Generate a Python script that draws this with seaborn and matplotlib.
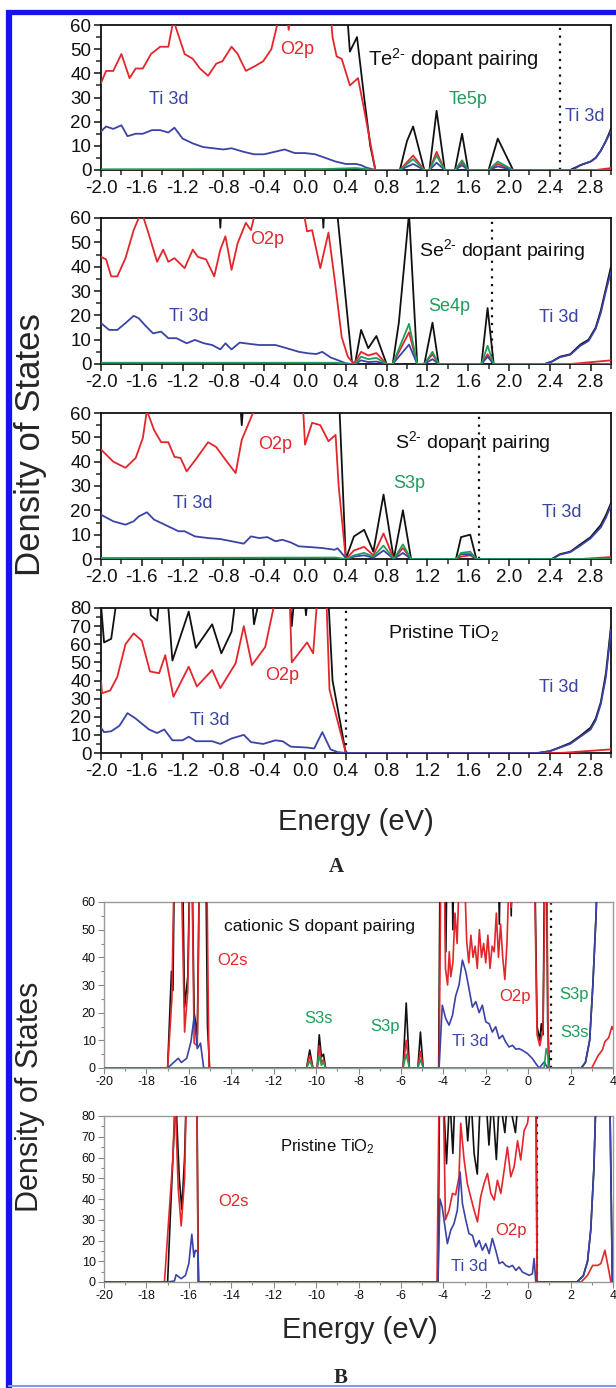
import matplotlib
matplotlib.use("Agg")
import matplotlib.pyplot as plt
from matplotlib.ticker import MultipleLocator, FormatStrFormatter
import seaborn as sns

# ---- Panel A: Te2- dopant pairing  (energy, DOS) ----
te_total = [(-2.0, 90), (0.37, 90), (0.44, 49), (0.51, 55), (0.58, 30), (0.64, 10), (0.69, 0),
            (0.93, 0), (1.0, 12), (1.06, 18), (1.17, 0), (1.22, 0), (1.29, 24.5), (1.37, 0),
            (1.47, 0), (1.54, 15), (1.6, 0), (1.8, 0), (1.89, 13), (2.04, 0), (2.6, 0), (2.7, 2),
            (2.8, 3.5), (2.85, 5), (2.9, 8), (2.95, 12), (3.0, 17)]
te_o2p = [(-2.0, 36), (-1.95, 41), (-1.88, 41), (-1.80, 48), (-1.72, 38), (-1.66, 42), (-1.59, 42),
          (-1.51, 48), (-1.42, 51), (-1.34, 51), (-1.29, 62), (-1.18, 48), (-1.10, 46), (-1.03, 42),
          (-0.95, 39), (-0.87, 44), (-0.81, 45), (-0.72, 51), (-0.66, 48), (-0.58, 41), (-0.49, 43),
          (-0.41, 45), (-0.33, 50), (-0.25, 64), (-0.19, 70), (-0.16, 58), (-0.12, 70), (0.1, 75),
          (0.24, 70), (0.27, 55), (0.31, 47), (0.36, 46), (0.44, 35), (0.52, 38), (0.58, 25), (0.69, 0),
          (0.93, 0), (1.06, 6), (1.17, 0), (1.22, 0), (1.29, 7.5), (1.37, 0), (1.47, 0), (1.54, 3),
          (1.6, 0), (1.8, 0), (1.89, 2.5), (2.04, 0), (2.85, 0), (3.0, 0.8)]
te_ti3d = [(-2.0, 16), (-1.95, 18), (-1.88, 17), (-1.80, 18.5), (-1.74, 14), (-1.66, 15), (-1.59, 15),
           (-1.5, 16.5), (-1.42, 16.5), (-1.34, 15.5), (-1.28, 17.5), (-1.2, 13), (-1.1, 11), (-1.0, 9.5),
           (-0.9, 9), (-0.8, 8.5), (-0.72, 9), (-0.6, 7.5), (-0.5, 6.5), (-0.4, 6.5), (-0.3, 7.5),
           (-0.2, 8.5), (-0.1, 7), (0.0, 7), (0.1, 6.5), (0.2, 5), (0.3, 3.5), (0.4, 2.5), (0.5, 2.5),
           (0.55, 2), (0.6, 1), (0.69, 0), (0.93, 0), (1.06, 2.5), (1.17, 0), (1.22, 0), (1.29, 3),
           (1.37, 0), (1.47, 0), (1.54, 2), (1.6, 0), (1.8, 0), (1.89, 1.5), (2.04, 0), (2.62, 0),
           (2.7, 2), (2.8, 3.5), (2.85, 5), (2.9, 8), (2.95, 12), (3.0, 16)]
te_dopant = [(-2.0, 0.3), (0.2, 0.4), (0.5, 0.8), (0.69, 0), (0.93, 0), (1.06, 4.5), (1.17, 0),
             (1.22, 0), (1.29, 6), (1.37, 0), (1.47, 0), (1.54, 4), (1.6, 0), (1.8, 0), (1.89, 3.5),
             (2.04, 0), (3.0, 0)]

# ---- Panel A: Se2- dopant pairing ----
se_total = [(-2.0, 90), (-0.87, 90), (-0.83, 56), (-0.79, 90), (0.14, 90), (0.18, 56), (0.22, 90),
            (0.25, 90), (0.46, 1), (0.49, 0), (0.55, 14), (0.62, 6.5), (0.7, 11.5), (0.8, 0), (0.86, 0),
            (0.92, 17), (1.02, 62), (1.1, 0), (1.17, 0), (1.25, 17), (1.31, 0), (1.73, 0), (1.79, 23),
            (1.85, 0), (2.35, 0), (2.42, 1), (2.5, 3), (2.6, 4), (2.7, 8), (2.78, 10), (2.85, 15),
            (2.9, 22), (2.95, 31), (3.0, 40)]
se_o2p = [(-2.0, 44), (-1.95, 43), (-1.9, 36), (-1.84, 36), (-1.76, 43.5), (-1.68, 55), (-1.63, 60),
          (-1.59, 61), (-1.54, 54.5), (-1.45, 42), (-1.39, 47), (-1.34, 42), (-1.28, 43.5), (-1.18, 39.4),
          (-1.10, 47), (-1.05, 44), (-0.97, 43), (-0.89, 36), (-0.83, 47), (-0.78, 52.5), (-0.72, 38.7),
          (-0.66, 49.7), (-0.58, 58), (-0.53, 55), (-0.49, 62), (-0.3, 75), (-0.1, 72), (-0.02, 64),
          (0.02, 54.5), (0.07, 55), (0.15, 39.4), (0.23, 54), (0.29, 35), (0.36, 11), (0.42, 3),
          (0.48, 0), (0.55, 5), (0.62, 3.5), (0.7, 4.5), (0.8, 0), (0.86, 0), (1.02, 13), (1.1, 0),
          (1.17, 0), (1.25, 4), (1.31, 0), (1.73, 0), (1.79, 4), (1.85, 0), (2.6, 0), (3.0, 1.5)]
se_ti3d = [(-2.0, 16.8), (-1.92, 14), (-1.84, 14), (-1.76, 16.8), (-1.68, 19.8), (-1.63, 18.8),
           (-1.57, 16), (-1.49, 12.6), (-1.41, 13.3), (-1.34, 10.6), (-1.26, 10.6), (-1.16, 8.5),
           (-1.08, 9.9), (-0.99, 8.5), (-0.91, 7.8), (-0.83, 6), (-0.78, 8.5), (-0.72, 6), (-0.64, 8.8),
           (-0.53, 8.2), (-0.45, 7.8), (-0.29, 7.8), (-0.18, 6.5), (-0.06, 5), (0.03, 4.4), (0.11, 4.1),
           (0.17, 5), (0.25, 2.7), (0.32, 1.6), (0.40, 0.3), (0.46, 0), (0.49, 0), (0.55, 1.5),
           (0.62, 0.8), (0.7, 1), (0.8, 0), (0.86, 0), (1.02, 8), (1.1, 0), (1.17, 0), (1.25, 2),
           (1.31, 0), (1.73, 0), (1.79, 3), (1.85, 0), (2.35, 0), (2.42, 1), (2.5, 2.8), (2.6, 3.8),
           (2.7, 7.5), (2.78, 9.5), (2.85, 14.5), (2.9, 21), (2.95, 30), (3.0, 38)]
se_dopant = [(-2.0, 0.5), (0.3, 0.5), (0.46, 0), (0.49, 0), (0.55, 3), (0.62, 2), (0.7, 2.5), (0.8, 0),
             (0.86, 0), (1.02, 16.5), (1.1, 0), (1.17, 0), (1.25, 5), (1.31, 0), (1.73, 0), (1.79, 7.5),
             (1.85, 0), (3.0, 0)]

# ---- Panel A: S2- dopant pairing ----
s_total = [(-2.0, 90), (-0.68, 90), (-0.62, 55), (-0.56, 90), (0.31, 90), (0.40, 0), (0.48, 9.3),
           (0.58, 12), (0.67, 3), (0.77, 26.5), (0.87, 0), (0.96, 20), (1.04, 0), (1.48, 0), (1.53, 9),
           (1.62, 10), (1.68, 0), (2.42, 0), (2.5, 2), (2.6, 3), (2.7, 6), (2.8, 9), (2.9, 14),
           (2.95, 18), (3.0, 23)]
s_o2p = [(-2.0, 45), (-1.88, 40), (-1.76, 37.5), (-1.66, 41.5), (-1.59, 49.7), (-1.55, 61), (-1.48, 53),
         (-1.41, 48), (-1.34, 48), (-1.28, 42), (-1.22, 41.5), (-1.16, 36), (-1.07, 41), (-0.95, 48),
         (-0.87, 46), (-0.78, 40.8), (-0.68, 35.3), (-0.62, 49), (-0.54, 57), (-0.49, 62), (-0.3, 72),
         (-0.1, 70), (-0.02, 63), (0.0, 47), (0.07, 56), (0.15, 55), (0.23, 48.4), (0.30, 51),
         (0.33, 30), (0.40, 0), (0.48, 3.5), (0.58, 5), (0.67, 1.5), (0.77, 10.5), (0.87, 0),
         (0.96, 4.5), (1.04, 0), (1.48, 0), (1.53, 1), (1.62, 1.5), (1.68, 0), (2.7, 0), (3.0, 0.8)]
s_ti3d = [(-2.0, 18.2), (-1.88, 15.5), (-1.76, 14.1), (-1.68, 15.5), (-1.63, 17.5), (-1.55, 19.2),
          (-1.48, 16.2), (-1.41, 14.8), (-1.34, 13.4), (-1.24, 11.4), (-1.18, 11.4), (-1.08, 9.3),
          (-0.95, 8.6), (-0.83, 8.2), (-0.72, 7.3), (-0.60, 6.3), (-0.53, 9.3), (-0.45, 8.6),
          (-0.37, 9), (-0.29, 7.3), (-0.22, 7.9), (-0.14, 6.8), (-0.06, 5.2), (0.05, 4.9), (0.17, 4.5),
          (0.29, 3.8), (0.32, 4.4), (0.40, 0.4), (0.43, 0), (0.48, 1), (0.58, 1.5), (0.67, 0.5),
          (0.77, 3.5), (0.87, 0), (0.96, 2.5), (1.04, 0), (1.48, 0), (1.53, 2), (1.62, 2), (1.68, 0),
          (2.42, 0), (2.5, 1.8), (2.6, 2.8), (2.7, 5.5), (2.8, 8.5), (2.9, 13), (2.95, 17), (3.0, 22)]
s_dopant = [(-2.0, 0.4), (0.3, 0.6), (0.40, 0), (0.48, 1.5), (0.58, 2.5), (0.67, 1), (0.77, 5.5),
            (0.87, 0), (0.96, 6), (1.04, 0), (1.48, 0), (1.53, 2.5), (1.62, 3), (1.68, 0), (3.0, 0)]

# ---- Panel A: pristine TiO2 ----
pa_total = [(-2.0, 82), (-1.97, 61), (-1.9, 63), (-1.82, 95), (-1.55, 95), (-1.51, 76), (-1.45, 73),
            (-1.41, 95), (-1.36, 95), (-1.30, 51), (-1.14, 78), (-1.07, 58), (-0.91, 71), (-0.82, 55),
            (-0.72, 67), (-0.66, 95), (-0.53, 95), (-0.5, 71), (-0.41, 95), (-0.16, 95), (-0.13, 70),
            (-0.09, 95), (-0.02, 95), (0.01, 76), (0.04, 95), (0.22, 95), (0.27, 40), (0.40, 0),
            (2.28, 0), (2.4, 1), (2.5, 3.2), (2.6, 5.5), (2.7, 9.5), (2.8, 14), (2.85, 19), (2.9, 28),
            (2.95, 44), (3.0, 70)]
pa_o2p = [(-2.0, 40), (-1.99, 33), (-1.91, 34.5), (-1.84, 42), (-1.76, 60), (-1.68, 66), (-1.6, 62),
          (-1.52, 45), (-1.43, 44), (-1.37, 54), (-1.29, 31), (-1.14, 47.6), (-1.06, 36.7),
          (-0.91, 45.8), (-0.83, 35.8), (-0.68, 49.5), (-0.6, 70), (-0.52, 48.5), (-0.39, 58.5),
          (-0.29, 85), (-0.15, 85), (-0.13, 50), (0.02, 61), (0.08, 55), (0.12, 85), (0.21, 85),
          (0.24, 35), (0.40, 0), (2.5, 0), (3.0, 2)]
pa_ti3d = [(-2.0, 14), (-1.97, 11.5), (-1.9, 12), (-1.82, 15), (-1.74, 22), (-1.66, 19), (-1.53, 13),
           (-1.45, 11), (-1.38, 13), (-1.30, 7), (-1.2, 7), (-1.14, 9), (-1.07, 6.5), (-0.91, 6.5),
           (-0.83, 5), (-0.72, 8), (-0.6, 10), (-0.53, 6), (-0.41, 5), (-0.29, 7), (-0.22, 6.5),
           (-0.14, 3.5), (0.02, 3), (0.09, 2.5), (0.17, 11.5), (0.25, 2), (0.32, 0.5), (0.40, 0),
           (2.28, 0), (2.4, 1), (2.5, 3), (2.6, 5), (2.7, 9), (2.8, 13), (2.85, 18), (2.9, 27),
           (2.95, 42), (3.0, 68)]

# ---- Panel B: cationic S dopant pairing ----
cs_total = [(-20, 0), (-17.0, 0), (-16.82, 35), (-16.75, 28), (-16.68, 75), (-16.3, 75), (-16.2, 22),
            (-16.05, 33), (-15.95, 75), (-15.85, 75), (-15.75, 20), (-15.6, 12), (-15.5, 75),
            (-15.2, 75), (-15.12, 15), (-15.02, 0), (-10.45, 0), (-10.3, 6.5), (-10.15, 0), (-9.95, 0),
            (-9.85, 12), (-9.75, 4), (-9.65, 5), (-9.55, 0), (-5.9, 0), (-5.75, 23.5), (-5.6, 0),
            (-5.2, 0), (-5.08, 13), (-4.95, 0), (-4.22, 0), (-4.15, 80), (-3.95, 80), (-3.88, 42),
            (-3.82, 80), (-3.6, 80), (-3.55, 50), (-3.5, 80), (-1.42, 80), (-1.36, 52), (-1.3, 80),
            (-0.85, 80), (-0.8, 55), (-0.75, 80), (0.3, 80), (0.42, 15), (0.55, 10), (0.62, 16),
            (0.7, 12), (0.78, 80), (0.86, 80), (0.92, 17), (1.0, 0), (2.5, 0), (2.7, 2), (2.9, 10),
            (3.05, 30), (3.2, 55), (3.3, 80), (4.0, 80)]
cs_o = [(-20, 0), (-17.0, 0), (-16.8, 25), (-16.7, 70), (-16.35, 70), (-16.2, 13), (-16.05, 28),
        (-15.95, 70), (-15.85, 70), (-15.75, 9), (-15.6, 8), (-15.5, 70), (-15.15, 70), (-15.05, 0),
        (-10.45, 0), (-10.3, 4.5), (-10.15, 0), (-9.95, 0), (-9.85, 8), (-9.75, 2), (-9.65, 3),
        (-9.55, 0), (-5.9, 0), (-5.75, 10), (-5.6, 0), (-5.2, 0), (-5.08, 6), (-4.95, 0), (-4.2, 0),
        (-4.12, 70), (-3.95, 70), (-3.9, 36), (-3.8, 30), (-3.72, 42), (-3.65, 33), (-3.55, 38),
        (-3.45, 56), (-3.35, 45), (-3.25, 70), (-3.0, 70), (-2.9, 46), (-2.8, 38), (-2.7, 48),
        (-2.6, 40), (-2.5, 44), (-2.4, 36), (-2.3, 50), (-2.2, 40), (-2.1, 45), (-2.0, 38),
        (-1.9, 48), (-1.8, 36), (-1.7, 44), (-1.6, 42), (-1.5, 56), (-1.4, 40), (-1.3, 52),
        (-1.2, 40), (-1.1, 32), (-1.0, 45), (-0.9, 70), (-0.8, 58), (-0.7, 70), (-0.5, 60),
        (-0.4, 70), (-0.2, 62), (-0.1, 70), (0.1, 60), (0.3, 70), (0.42, 12), (0.55, 8), (0.7, 14),
        (0.8, 70), (0.88, 70), (0.95, 0), (3.0, 0), (3.3, 4.5), (3.5, 6.5), (3.62, 9.5), (3.8, 11),
        (3.95, 15), (4.0, 14)]
cs_ti3d = [(-20, 0), (-17.0, 0), (-16.5, 3.5), (-16.35, 2), (-16.1, 3.5), (-15.9, 9.5), (-15.75, 18.5),
           (-15.6, 7), (-15.45, 9), (-15.3, 0), (-4.2, 0), (-4.05, 22.7), (-3.89, 17.9), (-3.73, 15.5),
           (-3.57, 19), (-3.42, 26), (-3.26, 30), (-3.1, 39), (-2.94, 34.8), (-2.79, 28.7),
           (-2.63, 22), (-2.47, 24), (-2.31, 20), (-2.16, 22.7), (-2.0, 16.7), (-1.84, 16),
           (-1.69, 13), (-1.53, 14.9), (-1.37, 10.6), (-1.21, 11.8), (-1.06, 9.4), (-0.9, 7.6),
           (-0.74, 8.2), (-0.58, 6.8), (-0.43, 7), (-0.27, 6.4), (-0.03, 5.2), (0.2, 3.4), (0.36, 1.6),
           (0.52, 0), (0.76, 2.2), (0.91, 0), (2.5, 0), (2.7, 2), (2.9, 10), (3.05, 30), (3.2, 55),
           (3.3, 80), (4.0, 80)]
cs_s = [(-20, 0), (-10.45, 0), (-10.3, 2.5), (-10.15, 0), (-9.95, 0), (-9.85, 4.5), (-9.75, 1),
        (-9.65, 2), (-9.55, 0), (-5.9, 0), (-5.75, 5), (-5.6, 0), (-5.2, 0), (-5.08, 3), (-4.95, 0),
        (0.75, 0), (0.85, 7), (0.92, 5), (1.0, 0), (4.0, 0)]

# ---- Panel B: pristine TiO2 ----
pb_total = [(-20, 0), (-17.0, 0), (-16.88, 30), (-16.62, 90), (-16.45, 50), (-16.33, 35), (-16.2, 60),
            (-16.12, 90), (-15.62, 90), (-15.55, 0), (-4.25, 0), (-4.18, 90), (-4.0, 90), (-3.85, 57),
            (-3.7, 90), (-3.55, 62), (-3.45, 90), (-3.0, 90), (-2.85, 68), (-2.7, 90), (-2.55, 62),
            (-2.4, 52), (-2.25, 90), (-2.0, 90), (-1.85, 66), (-1.7, 90), (-1.5, 59), (-1.35, 90),
            (-1.1, 72), (-0.95, 90), (-0.6, 72), (-0.45, 90), (0.38, 90), (0.42, 0), (2.3, 0),
            (2.6, 3), (2.8, 10), (2.95, 25), (3.1, 55), (3.2, 90), (3.85, 90), (3.97, 0), (4.0, 0)]
pb_o = [(-20, 0), (-17.15, 0), (-16.95, 30), (-16.75, 60), (-16.65, 90), (-16.5, 45), (-16.36, 27),
        (-16.2, 50), (-16.12, 90), (-15.62, 90), (-15.56, 0), (-4.3, 0), (-4.2, 90), (-4.0, 90),
        (-3.9, 30), (-3.73, 34.6), (-3.57, 42.7), (-3.42, 42), (-3.26, 50.7), (-3.18, 76.5),
        (-3.02, 58.8), (-2.87, 47.5), (-2.71, 41), (-2.55, 34.6), (-2.39, 29), (-2.24, 41),
        (-2.08, 47.5), (-1.92, 52.3), (-1.76, 42.7), (-1.6, 39.5), (-1.45, 49), (-1.29, 42.7),
        (-1.13, 54), (-0.98, 65), (-0.82, 50.7), (-0.66, 55.6), (-0.5, 68), (-0.35, 58.8),
        (-0.19, 73), (-0.03, 76.5), (0.13, 90), (0.36, 90), (0.42, 0), (2.5, 0), (2.8, 3.2),
        (3.04, 8), (3.28, 8), (3.43, 8.9), (3.62, 15.3), (3.83, 4), (3.9, 0), (4.0, 0)]
pb_ti3d = [(-20, 0), (-17.0, 0), (-16.68, 0.5), (-16.6, 3.5), (-16.36, 1.6), (-16.16, 3.2), (-16.0, 8.9),
           (-15.86, 23), (-15.76, 12), (-15.69, 15.3), (-15.57, 14.5), (-15.53, 0), (-4.25, 0),
           (-4.16, 40), (-4.05, 36), (-3.97, 30), (-3.81, 18.5), (-3.65, 25), (-3.5, 28), (-3.34, 34.6),
           (-3.21, 53), (-3.1, 37.8), (-2.94, 29.8), (-2.79, 23.3), (-2.63, 22.5), (-2.47, 17),
           (-2.31, 20), (-2.16, 15.3), (-2.0, 18.5), (-1.84, 13.7), (-1.69, 21), (-1.53, 15.3),
           (-1.37, 8.9), (-1.21, 9.7), (-1.06, 8), (-0.9, 7.2), (-0.74, 8), (-0.58, 5.6), (-0.43, 7.2),
           (-0.27, 4.8), (-0.11, 4), (0.05, 3.2), (0.2, 4), (0.28, 11.3), (0.36, 0), (2.3, 0), (2.6, 3),
           (2.8, 10), (2.95, 25), (3.1, 55), (3.2, 90), (3.85, 90), (3.97, 0), (4.0, 0)]

# Fermi-level / gap markers
a_markers = [2.5, 1.83, 1.71, 0.4]
b_markers = [1.1, 0.4]

sns.set_style("white")
plt.rcParams["font.family"] = ["Liberation Sans", "DejaVu Sans"]
plt.rcParams["mathtext.fontset"] = "custom"
plt.rcParams["mathtext.rm"] = "Liberation Sans"
plt.rcParams["mathtext.it"] = "Liberation Sans:italic"
plt.rcParams["axes.unicode_minus"] = False

RED = "#e3262b"
BLUE = "#3a43a6"
GREEN = "#1f9d5b"
BLACK = "#111111"

W, H = 616, 1388
fig = plt.figure(figsize=(W / 100, H / 100), dpi=100)


def box(l, t, r, b):
    return fig.add_axes([l / W, 1 - b / H, (r - l) / W, (b - t) / H])


def draw(ax, pts, color, lw=1.3):
    xs = [p[0] for p in pts]
    ys = [p[1] for p in pts]
    sns.lineplot(x=xs, y=ys, ax=ax, color=color, lw=lw, estimator=None, sort=False, zorder=3)


def style_a(ax, ymax, marker):
    ax.set_xlim(-2.0, 3.0)
    ax.set_ylim(0, ymax)
    ax.xaxis.set_major_locator(MultipleLocator(0.4))
    ax.xaxis.set_minor_locator(MultipleLocator(0.2))
    ax.xaxis.set_major_formatter(FormatStrFormatter("%.1f"))
    ax.yaxis.set_major_locator(MultipleLocator(10))
    ax.yaxis.set_minor_locator(MultipleLocator(5))
    ax.tick_params(axis="both", which="major", direction="out", length=5, width=1.1,
                   labelsize=13.5, pad=2, colors=BLACK)
    ax.tick_params(axis="both", which="minor", direction="out", length=3.5, width=1.1)
    ax.tick_params(top=False, right=False, bottom=True, left=True, which="both")
    for sp in ax.spines.values():
        sp.set_linewidth(1.3)
        sp.set_color(BLACK)
    ax.axvline(marker, color=BLACK, ls=(0, (1, 2.5)), lw=1.6)
    ax.set_xlabel("")
    ax.set_ylabel("")


def style_b(ax, ymax, marker):
    ax.set_xlim(-20, 4)
    ax.set_ylim(0, ymax)
    ax.xaxis.set_major_locator(MultipleLocator(2))
    ax.xaxis.set_minor_locator(MultipleLocator(1))
    ax.yaxis.set_major_locator(MultipleLocator(10))
    ax.yaxis.set_minor_locator(MultipleLocator(5))
    ax.tick_params(axis="both", which="major", direction="out", length=4, width=0.8,
                   labelsize=9, pad=2, color="#888888", labelcolor=BLACK)
    ax.tick_params(axis="both", which="minor", direction="out", length=2.5, width=0.8,
                   color="#888888")
    ax.tick_params(top=False, right=False, bottom=True, left=True, which="both")
    for sp in ax.spines.values():
        sp.set_linewidth(1.0)
        sp.set_color("#9a9a9a")
    ax.axvline(marker, color=BLACK, ls=(0, (1, 2.5)), lw=1.6)
    ax.set_xlabel("")
    ax.set_ylabel("")


def label(ax, x, y, s, color, size=13, ha="center"):
    ax.text(x, y, s, color=color, fontsize=size, ha=ha, va="center")


# ---------------- Panel A ----------------
ax1 = box(101, 25, 611, 170)
for pts, c in [(te_total, BLACK), (te_o2p, RED), (te_ti3d, BLUE), (te_dopant, GREEN)]:
    draw(ax1, pts, c)
style_a(ax1, 60, a_markers[0])
label(ax1, 0.62, 46, r"Te$^{2\text{-}}$ dopant pairing", BLACK, 14.5, ha="left")
label(ax1, -0.08, 50, "O2p", RED)
label(ax1, -1.34, 29, "Ti 3d", BLUE)
label(ax1, 1.6, 29, "Te5p", GREEN)
label(ax1, 2.55, 22, "Ti 3d", BLUE, ha="left")

ax2 = box(101, 218, 611, 364)
for pts, c in [(se_total, BLACK), (se_o2p, RED), (se_ti3d, BLUE), (se_dopant, GREEN)]:
    draw(ax2, pts, c)
style_a(ax2, 60, a_markers[1])
label(ax2, 1.12, 47, r"Se$^{2\text{-}}$ dopant pairing", BLACK, 14, ha="left")
label(ax2, -0.37, 51, "O2p", RED)
label(ax2, -1.14, 19.5, "Ti 3d", BLUE)
label(ax2, 1.41, 23.6, "Se4p", GREEN)
label(ax2, 2.49, 19, "Ti 3d", BLUE)

ax3 = box(101, 413, 611, 559)
for pts, c in [(s_total, BLACK), (s_o2p, RED), (s_ti3d, BLUE), (s_dopant, GREEN)]:
    draw(ax3, pts, c)
style_a(ax3, 60, a_markers[2])
label(ax3, 0.88, 48, r"S$^{2\text{-}}$ dopant pairing", BLACK, 14, ha="left")
label(ax3, -0.29, 47, "O2p", RED)
label(ax3, -1.1, 23, "Ti 3d", BLUE)
label(ax3, 1.02, 31, "S3p", GREEN)
label(ax3, 2.52, 19, "Ti 3d", BLUE)

ax4 = box(101, 608, 611, 753)
for pts, c in [(pa_total, BLACK), (pa_o2p, RED), (pa_ti3d, BLUE)]:
    draw(ax4, pts, c)
style_a(ax4, 80, a_markers[3])
label(ax4, 0.81, 66, r"Pristine TiO$_2$", BLACK, 14, ha="left")
label(ax4, -0.22, 43, "O2p", RED)
label(ax4, -0.93, 18, "Ti 3d", BLUE)
label(ax4, 2.49, 36, "Ti 3d", BLUE)

fig.text(31 / W, 1 - 445 / H, "Density of States", rotation=90, fontsize=25,
         ha="center", va="center")
fig.text(356 / W, 1 - 822 / H, "Energy (eV)", fontsize=21, ha="center", va="center")
fig.text(336 / W, 1 - 867 / H, "A", fontsize=15, fontweight="bold",
         family="Liberation Serif", ha="center", va="center")

# ---------------- Panel B ----------------
bx1 = box(104, 902, 613, 1068)
for pts, c in [(cs_total, BLACK), (cs_o, RED), (cs_ti3d, BLUE), (cs_s, GREEN)]:
    draw(bx1, pts, c, lw=1.2)
style_b(bx1, 60, b_markers[0])
label(bx1, -14.34, 51, "cationic S dopant pairing", BLACK, 12.5, ha="left")
label(bx1, -13.96, 39, "O2s", RED, 12)
label(bx1, -9.9, 18, "S3s", GREEN, 12)
label(bx1, -6.74, 15, "S3p", GREEN, 12)
label(bx1, -0.6, 25.7, "O2p", RED, 12)
label(bx1, -2.75, 9.4, "Ti 3d", BLUE, 12)
label(bx1, 2.17, 26.4, "S3p", GREEN, 12)
label(bx1, 2.17, 12.7, "S3s", GREEN, 12)

bx2 = box(104, 1116, 613, 1282)
for pts, c in [(pb_total, BLACK), (pb_o, RED), (pb_ti3d, BLUE)]:
    draw(bx2, pts, c, lw=1.2)
style_b(bx2, 80, b_markers[1])
label(bx2, -11.7, 65, r"Pristine TiO$_2$", BLACK, 12, ha="left")
label(bx2, -13.9, 38.6, "O2s", RED, 12)
label(bx2, -0.8, 25, "O2p", RED, 12)
label(bx2, -2.8, 7.3, "Ti 3d", BLUE, 12)

fig.text(30 / W, 1 - 1097 / H, "Density of States", rotation=90, fontsize=22,
         ha="center", va="center")
fig.text(360 / W, 1 - 1330 / H, "Energy (eV)", fontsize=21, ha="center", va="center")
fig.text(341 / W, 1 - 1378 / H, "B", fontsize=15, fontweight="bold",
         family="Liberation Serif", ha="center", va="center")

# journal-style blue frame
fig.add_artist(plt.Line2D([9 / W, 9 / W], [0, 1 - 10 / H], transform=fig.transFigure,
                          color="#1414f0", lw=4.5, solid_capstyle="butt"))
fig.add_artist(plt.Line2D([6 / W, 1], [1 - 12 / H, 1 - 12 / H], transform=fig.transFigure,
                          color="#1414f0", lw=3.8, solid_capstyle="butt"))
fig.add_artist(plt.Line2D([9 / W, 1], [1 - 1386 / H, 1 - 1386 / H], transform=fig.transFigure,
                          color="#7d9cf0", lw=1.5))

fig.savefig("out.png", dpi=100)
